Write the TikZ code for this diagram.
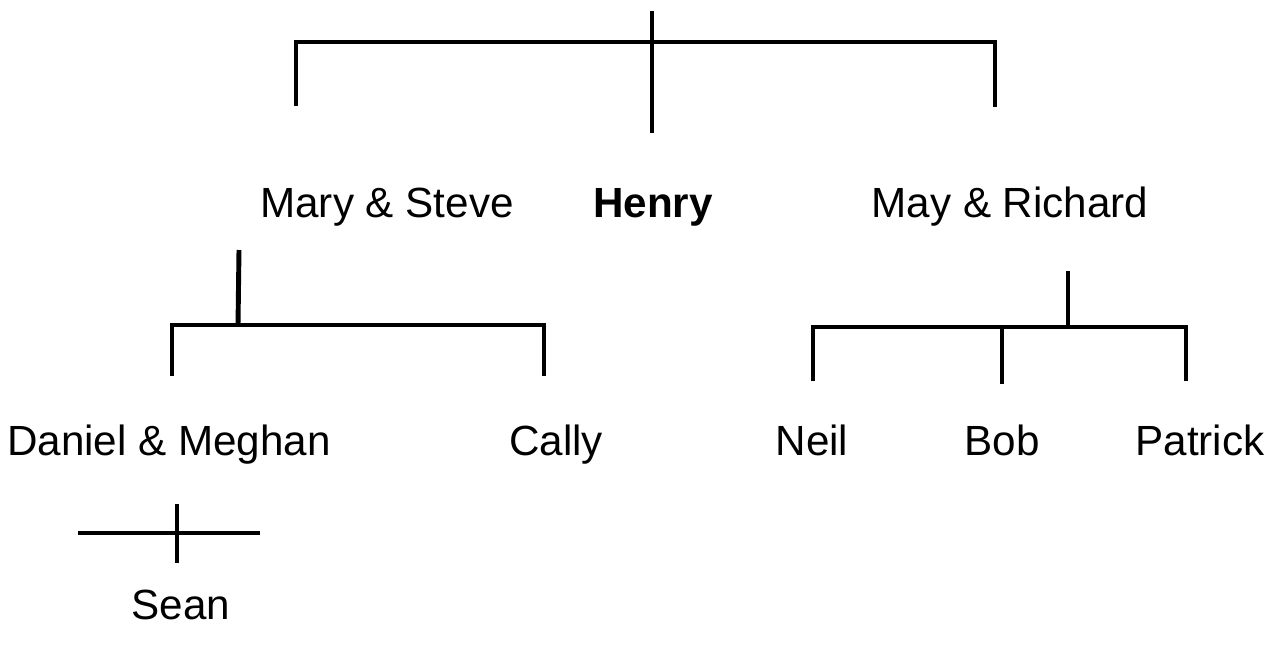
\documentclass[tikz,border=0pt]{standalone}
\usepackage{fontspec}
\setmainfont{Liberation Sans}
\usetikzlibrary{positioning}

\begin{document}
\begin{tikzpicture}[
            x=0.01cm, y=-0.01cm,
            person/.style={
                anchor=base,
                inner sep=0pt,
                font=\fontsize{12}{14}\selectfont
            },
            bar/.style={
                line width=1.4pt,
                black
            },
        ]

            \useasboundingbox (0,0) rectangle (1280,648);

            % first generation
            \coordinate (top) at (652,11);
            \coordinate (topend) at (652,133);
            \coordinate (topL) at (296,42);
            \coordinate (topR) at (995,42);
            \coordinate (topLd) at (296,106);
            \coordinate (topRd) at (995,107);

            \draw[bar] (topLd) -- (topL) -- (topR) -- (topRd);
            \draw[bar] (top) -- (topend);

            \node[person] (mary) at (387,217) {Mary \& Steve};
            \node[person, font=\fontsize{12}{14}\selectfont\bfseries] (henry) at (653,217) {Henry};
            \node[person] (may) at (1010,217) {May \& Richard};

            % children of Mary & Steve
            \coordinate (msStem) at (239,250);
            \coordinate (msMid) at (238,325);
            \coordinate (msL) at (172,325);
            \coordinate (msR) at (544,325);
            \coordinate (msLd) at (172,376);
            \coordinate (msRd) at (544,376);

            \draw[bar] (msStem) -- (msMid);
            \draw[bar] (msLd) -- (msL) -- (msR) -- (msRd);

            \node[person] (daniel) at (169,455) {Daniel \& Meghan};
            \node[person] (cally) at (556,455) {Cally};

            % children of May & Richard
            \coordinate (mrStem) at (1068,271);
            \coordinate (mrMid) at (1068,327);
            \coordinate (mrL) at (813,327);
            \coordinate (mrR) at (1186,327);
            \coordinate (mrLd) at (813,381);
            \coordinate (mrRd) at (1186,381);
            \coordinate (mrC) at (1002,327);
            \coordinate (mrCd) at (1002,384);

            \draw[bar] (mrStem) -- (mrMid);
            \draw[bar] (mrLd) -- (mrL) -- (mrR) -- (mrRd);
            \draw[bar] (mrC) -- (mrCd);

            \node[person] (neil) at (812,455) {Neil};
            \node[person] (bob) at (1002,455) {Bob};
            \node[person] (patrick) at (1200,455) {Patrick};

            % child of Daniel & Meghan
            \coordinate (dmL) at (78,533);
            \coordinate (dmR) at (260,533);
            \coordinate (dmT) at (177,504);
            \coordinate (dmB) at (177,563);

            \draw[bar] (dmL) -- (dmR);
            \draw[bar] (dmT) -- (dmB);

            \node[person] (sean) at (181,619) {Sean};
        \end{tikzpicture}
\end{document}
